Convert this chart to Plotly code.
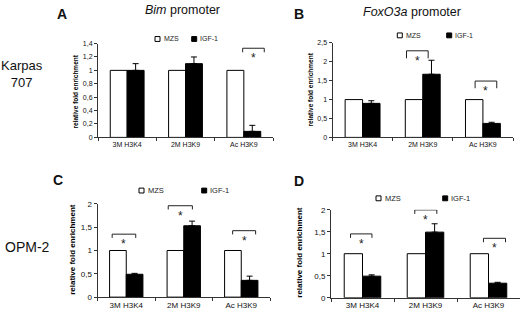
import plotly.graph_objects as go

# ---------------- data ----------------
categories = ["3M H3K4", "2M H3K9", "Ac H3K9"]
series_names = ["MZS", "IGF-1"]

bim_mzs = [1.0, 1.0, 1.0]
bim_igf = [1.0, 1.1, 0.09]
bim_igf_err = [0.1, 0.1, 0.09]

fox_mzs = [1.0, 1.0, 1.0]
fox_igf = [0.90, 1.67, 0.37]
fox_igf_err = [0.07, 0.37, 0.03]

opm_bim_mzs = [1.0, 1.0, 1.0]
opm_bim_igf = [0.49, 1.53, 0.36]
opm_bim_igf_err = [0.02, 0.10, 0.09]

opm_fox_mzs = [1.0, 1.0, 1.0]
opm_fox_igf = [0.49, 1.49, 0.33]
opm_fox_igf_err = [0.03, 0.19, 0.02]

y_ticks_a = [0, 0.2, 0.4, 0.6, 0.8, 1.0, 1.2, 1.4]
y_ticks_b = [0, 0.5, 1.0, 1.5, 2.0, 2.5]
y_ticks_cd = [0, 0.5, 1.0, 1.5, 2.0]

# significance brackets: (category start, end, top y, leg length)
brackets_a = [(1.98, 2.35, 1.33, 0.06)]
brackets_b = [(0.73, 1.09, 2.29, 0.2), (1.87, 2.23, 1.49, 0.19)]
brackets_c = [(-0.245, 0.165, 1.35, 0.08), (0.73, 1.15, 1.96, 0.08), (1.85, 2.25, 1.425, 0.08)]
brackets_d = [(-0.19, 0.15, 1.45, 0.09), (0.83, 1.18, 1.995, 0.09), (1.92, 2.27, 1.35, 0.09)]

W, H = 520, 317
FONT = "Liberation Sans, Arial, sans-serif"

fig = go.Figure()

panels = [
    ("", bim_mzs, bim_igf, bim_igf_err, y_ticks_a, [0, 1.4], (98, 273), (137.3, 40.7), brackets_a, 7, 7),
    ("2", fox_mzs, fox_igf, fox_igf_err, y_ticks_b, [0, 2.5], (332.5, 513), (137.3, 40.0), brackets_b, 7, 7),
    ("3", opm_bim_mzs, opm_bim_igf, opm_bim_igf_err, y_ticks_cd, [0, 2], (97.5, 270), (301.7, 205.7), brackets_c, 8, 8),
    ("4", opm_fox_mzs, opm_fox_igf, opm_fox_igf_err, y_ticks_cd, [0, 2], (331, 520), (302.3, 211.7), brackets_d, 8, 8),
]

layout_axes = {}
shapes = []
annotations = []

for suf, mzs, igf, err, ticks, yr, xd, yd, brs, tfs, lfs in panels:
    xa = "x" + suf
    ya = "y" + suf
    fig.add_trace(go.Bar(
        x=categories, y=mzs, name=series_names[0], xaxis=xa, yaxis=ya,
        marker=dict(color="white", line=dict(color="black", width=1)),
        showlegend=False,
    ))
    fig.add_trace(go.Bar(
        x=categories, y=igf, name=series_names[1], xaxis=xa, yaxis=ya,
        marker=dict(color="black", line=dict(color="black", width=1)),
        error_y=dict(type="data", array=err, arrayminus=[0] * len(err), symmetric=False,
                     color="black", thickness=1, width=3),
        showlegend=False,
    ))
    xkey = "xaxis" + suf
    ykey = "yaxis" + suf
    layout_axes[xkey] = dict(
        domain=[xd[0] / W, xd[1] / W], anchor=ya, type="category",
        range=[-0.5, 2.5], showline=True, linecolor="#333", linewidth=1,
        ticks="outside", tickson="boundaries", ticklen=3, tickcolor="#333",
        tickfont=dict(size=lfs, color="#111", family=FONT), showgrid=False, zeroline=False,
        fixedrange=True,
    )
    layout_axes[ykey] = dict(
        domain=[1 - yd[0] / H, 1 - yd[1] / H], anchor=xa, range=yr,
        tickvals=ticks, showline=True, linecolor="#333", linewidth=1,
        ticks="outside", ticklen=3, tickcolor="#333",
        tickfont=dict(size=tfs, color="#111", family=FONT), showgrid=False, zeroline=False,
        fixedrange=True,
    )
    for x0, x1, top, leg in brs:
        shapes.append(dict(type="path", xref=xa, yref=ya,
                           path=f"M {x0},{top - leg} L {x0},{top} L {x1},{top} L {x1},{top - leg}",
                           line=dict(color="#222", width=1)))
        annotations.append(dict(x=(x0 + x1) / 2, y=top, xref=xa, yref=ya, text="*",
                                showarrow=False, yanchor="top", yshift=-1,
                                font=dict(size=12, color="#222", family=FONT)))

# legends (small squares + text) per panel, in pixel positions
legend_pos = [
    (155, 36, 191.7, 6.5),
    (397.3, 32.3, 446.7, 6.5),
    (139, 192, 201.7, 7),
    (376, 200, 442.7, 7),
]
for bx1, by, bx2, fs in legend_pos:
    for bx, name, fill in ((bx1, series_names[0], "white"), (bx2, series_names[1], "black")):
        s = 5
        shapes.append(dict(type="rect", xref="paper", yref="paper",
                           x0=bx / W, x1=(bx + s) / W, y0=1 - (by + s / 2) / H, y1=1 - (by - s / 2) / H,
                           fillcolor=fill, line=dict(color="black", width=1)))
        annotations.append(dict(x=(bx + s + 1.5) / W, y=1 - by / H, xref="paper", yref="paper",
                                text=name, showarrow=False, xanchor="left", yanchor="middle",
                                font=dict(size=fs + 0.5, color="#222", family=FONT)))

# y axis titles
for xpx, ypx, fs in ((75, 90, 6.5), (311, 88, 6.5), (73, 253, 8), (300, 256, 8)):
    annotations.append(dict(x=xpx / W, y=1 - ypx / H, xref="paper", yref="paper",
                            text="<b>relative fold enrichment</b>", textangle=-90, showarrow=False,
                            xanchor="center", yanchor="middle",
                            font=dict(size=fs, color="black", family=FONT)))

# titles, panel letters, row labels
texts = [
    ("<i>Bim</i> promoter", 182, 6, 12.5),
    ("<i>FoxO3a</i> promoter", 412, 8, 12.5),
    ("<b>A</b>", 62, 10, 14),
    ("<b>B</b>", 299, 10, 14),
    ("<b>C</b>", 58, 181, 14),
    ("<b>D</b>", 299, 182, 14),
    ("Karpas<br>707", 22, 72, 13),
    ("OPM-2", 27, 250, 14),
]
for t, xpx, ypx, fs in texts:
    annotations.append(dict(x=xpx / W, y=1 - ypx / H, xref="paper", yref="paper", text=t,
                            showarrow=False, xanchor="center", yanchor="middle", align="center",
                            font=dict(size=fs, color="#111", family=FONT)))

fig.update_layout(
    width=W, height=H, margin=dict(l=0, r=0, t=0, b=0),
    paper_bgcolor="white", plot_bgcolor="white",
    barmode="group", bargap=0.42, bargroupgap=0.0,
    separators=",.", showlegend=False,
    font=dict(family=FONT, color="#111"),
    shapes=shapes, annotations=annotations,
    **layout_axes,
)

fig.write_html("out.html", config={"displayModeBar": False},
               post_script="document.body.style.margin='0';document.body.style.overflow='hidden';")
